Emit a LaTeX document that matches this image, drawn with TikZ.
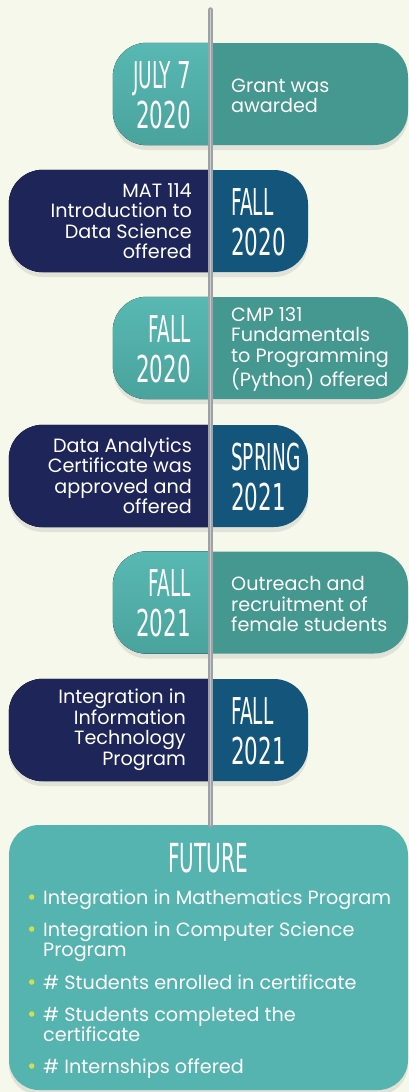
\documentclass[tikz,border=0pt]{standalone}
\usepackage{fontspec}
\setmainfont{Poppins}
\newfontfamily\datefont[FakeStretch=0.5]{DejaVu Sans}
\newfontfamily\numfont[FakeStretch=0.58]{DejaVu Sans}
\usetikzlibrary{shadows}
\definecolor{bgc}{HTML}{F7F8EC}
\definecolor{tealL}{HTML}{58B8B2}
\definecolor{tealLb}{HTML}{4AA39D}
\definecolor{tealD}{HTML}{45988F}
\definecolor{navy}{HTML}{1E2559}
\definecolor{blueR}{HTML}{14557B}
\definecolor{futc}{HTML}{55B4AF}
\definecolor{linec}{HTML}{A0A1A5}
\definecolor{linehi}{HTML}{C9CACD}
\definecolor{bul}{HTML}{D3DF48}
\tikzset{
  tlbox/.style={rounded corners=34pt, minimum height=102pt, inner sep=0pt,
    drop shadow={opacity=0.18, shadow xshift=0pt, shadow yshift=-5pt}},
  datetxt/.style={text=white, inner sep=0pt, font=\fontsize{37}{40}\selectfont},
  bodytxt/.style={text=white, inner sep=0pt, font=\fontsize{19.2}{20.5}\selectfont},
  itemtxt/.style={text=white, inner sep=0pt, anchor=base west, font=\fontsize{19.2}{20.7}\selectfont},
  bulletdot/.style={circle, fill=bul, inner sep=0pt, minimum size=5.5pt},
  tline/.style={line width=5.5pt, draw=linec, line cap=round},
  tlinehi/.style={line width=1.6pt, draw=linehi, line cap=round}
}
\newcommand{\lefthalf}[3]{% node, top colour, bottom colour
  \begin{scope}
    \clip (#1.north west) rectangle (#1.south -| mid);
    \fill[rounded corners=34pt, top color=#2, bottom color=#3] (#1.north west) rectangle (#1.south east);
  \end{scope}}
\begin{document}
\begin{tikzpicture}[x=1pt,y=-1pt]
\useasboundingbox[fill=bgc] (0,0) rectangle (409,1092);
\coordinate (mid) at (210.5,0);
\coordinate (top) at (210.5,10);
% boxes
\node[tlbox, fill=tealD, minimum width=295pt] (b1) at (260.5,94) {};
\lefthalf{b1}{tealL}{tealLb}
\node[tlbox, fill=blueR, minimum width=299pt] (b2) at (158.5,221) {};
\lefthalf{b2}{navy}{navy}
\node[tlbox, fill=tealD, minimum width=295pt] (b3) at (260.5,348) {};
\lefthalf{b3}{tealL}{tealLb}
\node[tlbox, fill=blueR, minimum width=299pt] (b4) at (158.5,476) {};
\lefthalf{b4}{navy}{navy}
\node[tlbox, fill=tealD, minimum width=295pt] (b5) at (260.5,602.5) {};
\lefthalf{b5}{tealL}{tealLb}
\node[tlbox, fill=blueR, minimum width=299pt] (b6) at (158.5,730) {};
\lefthalf{b6}{navy}{navy}
% future box
\node[rounded corners=30pt, fill=futc, minimum width=399pt, minimum height=265pt, inner sep=0pt,
  drop shadow={opacity=0.18, shadow xshift=0pt, shadow yshift=-5pt}] (fut) at (208.5,957.5) {};
% timeline
\draw[tline] (top) -- (top |- fut.north);
\draw[tlinehi] (top) -- (top |- fut.north);
% texts
\node[datetxt, anchor=east, align=right] (d1) at (191,95) {{\datefont JULY }{\numfont 7}\\{\numfont 2020}};
\node[bodytxt, anchor=west, align=left] (t1) at (231,96) {Grant was\\awarded};
\node[datetxt, anchor=west, align=left] (d2) at (231,222) {{\datefont FALL}\\{\numfont 2020}};
\node[bodytxt, anchor=east, align=right] (t2) at (192,221) {MAT 114\\Introduction to\\Data Science\\offered};
\node[datetxt, anchor=east, align=right] (d3) at (191,349) {{\datefont FALL}\\{\numfont 2020}};
\node[bodytxt, anchor=west, align=left] (t3) at (231,349) {CMP 131\\Fundamentals\\to Programming\\(Python) offered};
\node[datetxt, anchor=west, align=left] (d4) at (231,477) {{\datefont SPRING}\\{\numfont 2021}};
\node[bodytxt, anchor=east, align=right] (t4) at (192,476) {Data Analytics\\Certificate was\\approved and\\offered};
\node[datetxt, anchor=east, align=right] (d5) at (191,603) {{\datefont FALL}\\{\numfont 2021}};
\node[bodytxt, anchor=west, align=left] (t5) at (231,604) {Outreach and\\recruitment of\\female students};
\node[datetxt, anchor=west, align=left] (d6) at (231,731) {{\datefont FALL}\\{\numfont 2021}};
\node[bodytxt, anchor=east, align=right] (t6) at (186,730) {Integration in\\Information\\Technology\\Program};
% future
\node[text=white, inner sep=0pt, anchor=base, font=\fontsize{40}{40}\selectfont\datefont] (fh) at (208,872) {FUTURE};
\node[itemtxt] (i1) at (43,904) {\parbox[t]{362pt}{\raggedright Integration in Mathematics Program}};
\node[itemtxt] (i2) at (43,936) {\parbox[t]{362pt}{\raggedright Integration in Computer Science\\Program}};
\node[itemtxt] (i3) at (43,989) {\parbox[t]{362pt}{\raggedright \# Students enrolled in certificate}};
\node[itemtxt] (i4) at (43,1021) {\parbox[t]{362pt}{\raggedright \# Students completed the\\certificate}};
\node[itemtxt] (i5) at (43,1073) {\parbox[t]{362pt}{\raggedright \# Internships offered}};
\node[bulletdot] (p1) at (31.7,897) {};
\node[bulletdot] (p2) at (31.7,929) {};
\node[bulletdot] (p3) at (31.7,982) {};
\node[bulletdot] (p4) at (31.7,1014) {};
\node[bulletdot] (p5) at (31.7,1066) {};
\end{tikzpicture}
\end{document}
